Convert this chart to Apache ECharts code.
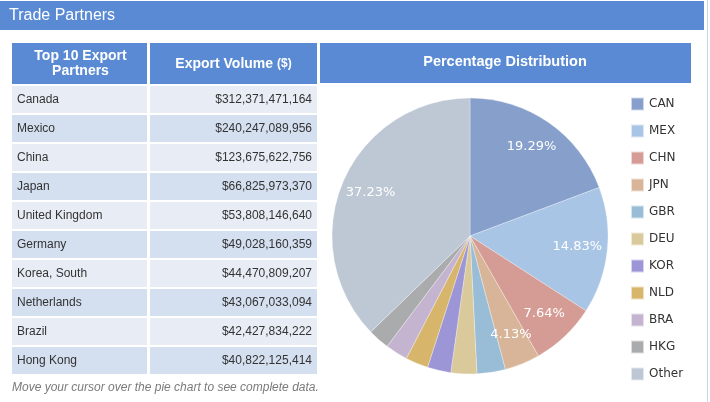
<!DOCTYPE html>
<html>
<head>
<meta charset="utf-8">
<script src="https://cdn.jsdelivr.net/npm/echarts@6/dist/echarts.min.js"></script>
<style>
html,body{margin:0;padding:0;background:#fff;}
#chart{width:710px;height:402px;}
</style>
</head>
<body>
<div id="chart"></div>
<script>
// ---- data ----
var countries = ['Canada','Mexico','China','Japan','United Kingdom','Germany','Korea, South','Netherlands','Brazil','Hong Kong'];
var exportValues = [312371471164, 240247089956, 123675622756, 66825973370, 53808146640, 49028160359, 44470809207, 43067033094, 42427834222, 40822125414];
var codes = ['CAN','MEX','CHN','JPN','GBR','DEU','KOR','NLD','BRA','HKG','Other'];
var otherValue = 602960000000;
var sliceColors = ['#869fcb','#a9c5e5','#d59c95','#d8b598','#99bdd6','#d9c99b','#9c95d6','#d7b66b','#c5b4cf','#aaabad','#bec8d5'];
var titleText = 'Trade Partners';
var headers = ['Top 10 Export\nPartners', 'Export Volume ($)', 'Percentage Distribution'];
var footnote = 'Move your cursor over the pie chart to see complete data.';

// ---- build ----
function fmtMoney(v){
  var s = String(v), out = '';
  while (s.length > 3){ out = ',' + s.slice(-3) + out; s = s.slice(0, -3); }
  return '$' + s + out;
}
var pieValues = exportValues.concat([otherValue]);
var total = pieValues.reduce(function(a, b){ return a + b; }, 0);
var pieData = codes.map(function(c, i){
  return { name: c, value: pieValues[i], itemStyle: { color: sliceColors[i] } };
});
var labelData = codes.map(function(c, i){
  return { name: c, value: pieValues[i] };
});

var HEAD_BLUE = '#5a8ad3';
var g = [];
// top bar
g.push({type:'rect', shape:{x:0,y:1,width:704,height:29}, style:{fill:HEAD_BLUE}, silent:true});
g.push({type:'text', x:9, y:16, style:{text:titleText, fill:'#fff', font:'16px "Liberation Sans", Arial, sans-serif', verticalAlign:'middle'}, silent:true});
// right border line
g.push({type:'rect', shape:{x:707,y:0,width:1,height:402}, style:{fill:'#c9d7ec'}, silent:true});
// table headers
var colX = [12, 150], colW = [135, 167];
g.push({type:'rect', shape:{x:colX[0],y:43,width:colW[0],height:41}, style:{fill:HEAD_BLUE}, silent:true});
g.push({type:'rect', shape:{x:colX[1],y:43,width:colW[1],height:41}, style:{fill:HEAD_BLUE}, silent:true});
g.push({type:'rect', shape:{x:320,y:43,width:371,height:40}, style:{fill:HEAD_BLUE}, silent:true});
g.push({type:'text', x:colX[0]+colW[0]/2+1, y:64, style:{text:headers[0], fill:'#fff', font:'bold 14px "Liberation Sans", Arial, sans-serif', align:'center', verticalAlign:'middle', lineHeight:15}, silent:true});
g.push({type:'text', x:colX[1]+colW[1]/2, y:64, style:{text:'{a|Export Volume }{b|($)}', fill:'#fff', align:'center', verticalAlign:'middle',
  rich:{a:{font:'bold 14px "Liberation Sans", Arial, sans-serif', fill:'#fff'}, b:{font:'bold 12px "Liberation Sans", Arial, sans-serif', fill:'#fff'}}}, silent:true});
g.push({type:'text', x:505, y:62, style:{text:headers[2], fill:'#fff', font:'bold 14.5px "Liberation Sans", Arial, sans-serif', align:'center', verticalAlign:'middle'}, silent:true});
// rows
for (var i = 0; i < countries.length; i++){
  var y = 86 + i*29;
  var fill = (i % 2 === 0) ? '#e8edf5' : '#d4dfef';
  g.push({type:'rect', shape:{x:colX[0],y:y,width:colW[0],height:27}, style:{fill:fill}, silent:true});
  g.push({type:'rect', shape:{x:colX[1],y:y,width:colW[1],height:27}, style:{fill:fill}, silent:true});
  g.push({type:'text', x:17, y:y+13.5, style:{text:countries[i], fill:'#333', font:'12px "Liberation Sans", Arial, sans-serif', verticalAlign:'middle'}, silent:true});
  g.push({type:'text', x:312, y:y+13.5, style:{text:fmtMoney(exportValues[i]), fill:'#333', font:'12px "Liberation Sans", Arial, sans-serif', align:'right', verticalAlign:'middle'}, silent:true});
}
g.push({type:'text', x:12, y:388, style:{text:footnote, fill:'#7a7a7a', font:'italic 12px "Liberation Sans", Arial, sans-serif', verticalAlign:'middle'}, silent:true});

var chart = echarts.init(document.getElementById('chart'), null, {renderer:'canvas'});
chart.setOption({
  animation:false,
  graphic: g,
  legend: {
    orient:'vertical', left:630, top:96, height:305, padding:0,
    data: codes,
    icon:'rect', itemWidth:13, itemHeight:13, itemGap:11,
    textStyle:{fontFamily:'"DejaVu Sans", Verdana, sans-serif', fontSize:12, color:'#333', lineHeight:16},
    selectedMode:false
  },
  series: [
    {
      type:'pie', center:[470,236], radius:[0,138], startAngle:90, clockwise:true,
      data: pieData, label:{show:false}, labelLine:{show:false},
      itemStyle:{borderColor:'rgba(255,255,255,0.6)', borderWidth:0.5},
      emphasis:{disabled:true}
    },
    {
      type:'pie', center:[470,235], radius:[72,138], startAngle:90, clockwise:true,
      data: labelData, silent:true,
      itemStyle:{color:'rgba(0,0,0,0)'},
      labelLine:{show:false},
      label:{show:true, position:'inside', color:'#fff', fontFamily:'"DejaVu Sans", Verdana, sans-serif', fontSize:13,
        formatter:function(p){ var pct = p.value / total * 100; return pct >= 4 ? pct.toFixed(2) + '%' : ''; }},
      emphasis:{disabled:true}
    }
  ]
});
</script>
</body>
</html>
